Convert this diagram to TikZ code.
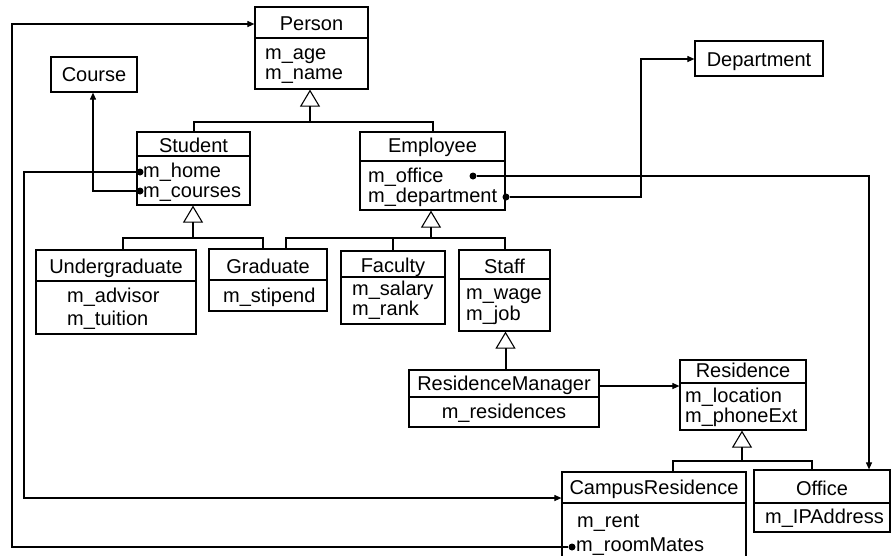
\documentclass[tikz,border=0pt]{standalone}
\usepackage{fontspec}
\setmainfont{Liberation Sans}
\usetikzlibrary{arrows.meta}

\tikzset{
  cls/.style={draw, line width=1.2pt, inner sep=0pt, fill=white},
  divline/.style={line width=1.8pt},
  title/.style={anchor=base, inner sep=0pt, font=\fontsize{20}{20}\selectfont},
  attr/.style={anchor=base west, inner sep=0pt, font=\fontsize{20}{20}\selectfont},
  attrc/.style={anchor=base, inner sep=0pt, font=\fontsize{20}{20}\selectfont},
  inh/.style={line width=2pt},
  inhtip/.style={line width=2pt, -{Triangle[open, length=17pt, width=20pt, line width=1.1pt]}},
  assoc/.style={line width=1.1pt, -{Triangle[length=7pt, width=6pt]}},
  dot/.style={circle, fill=black, inner sep=0pt, minimum size=7pt}
}

\begin{document}
\begin{tikzpicture}[x=1pt, y=-1pt]
\useasboundingbox (0,0) rectangle (892,555);
\clip (0,0) rectangle (892,555);
\fill[white] (0,0) rectangle (892,555);

% ---------- class boxes ----------
\node[cls, minimum width=113pt, minimum height=82pt]  (person)     at (311.5,48)  {};
\node[cls, minimum width=86pt,  minimum height=35pt]  (course)     at (94,74.5)   {};
\node[cls, minimum width=113pt, minimum height=73pt]  (student)    at (193.5,168.5) {};
\node[cls, minimum width=145pt, minimum height=78pt]  (employee)   at (432.5,171) {};
\node[cls, minimum width=128pt, minimum height=35pt]  (department) at (759,58.5)  {};
\node[cls, minimum width=160pt, minimum height=84pt]  (undergrad)  at (116,292)   {};
\node[cls, minimum width=118pt, minimum height=62pt]  (graduate)   at (268,280)   {};
\node[cls, minimum width=104pt, minimum height=73pt]  (faculty)    at (393,287.5) {};
\node[cls, minimum width=91pt,  minimum height=81pt]  (staff)      at (504.5,290.5) {};
\node[cls, minimum width=190pt, minimum height=57pt]  (resmgr)     at (504,398.5) {};
\node[cls, minimum width=126pt, minimum height=70pt]  (residence)  at (743,395)   {};
\node[cls, minimum width=184pt, minimum height=103pt] (campus)     at (654,523.5) {};
\node[cls, minimum width=136pt, minimum height=62pt]  (office)     at (822,501)   {};

% ---------- compartment dividers ----------
\draw[divline] (person.west |- 0,38)    -- (person.east |- 0,38);
\draw[divline] (student.west |- 0,156)  -- (student.east |- 0,156);
\draw[divline] (employee.west |- 0,161) -- (employee.east |- 0,161);
\draw[divline] (undergrad.west |- 0,281) -- (undergrad.east |- 0,281);
\draw[divline] (graduate.west |- 0,280) -- (graduate.east |- 0,280);
\draw[divline] (faculty.west |- 0,277)  -- (faculty.east |- 0,277);
\draw[divline] (staff.west |- 0,279)    -- (staff.east |- 0,279);
\draw[divline] (resmgr.west |- 0,397)   -- (resmgr.east |- 0,397);
\draw[divline] (residence.west |- 0,383) -- (residence.east |- 0,383);
\draw[divline] (campus.west |- 0,503)   -- (campus.east |- 0,503);
\draw[divline] (office.west |- 0,503)   -- (office.east |- 0,503);

% ---------- texts ----------
\node[title] (tPerson) at (311.5,30) {Person};
\node[attr]  (aAge)    at (265,59)   {m\_age};
\node[attr]  (aName)   at (265,79)   {m\_name};

\node[title] (tCourse) at (94,81) {Course};

\node[title] (tStudent) at (193.5,152) {Student};
\node[attr]  (aHome)    at (143,177)   {m\_home};
\node[attr]  (aCourses) at (143,197)   {m\_courses};

\node[title] (tEmployee) at (432.5,152) {Employee};
\node[attr]  (aOffice)   at (368,182)   {m\_office};
\node[attr]  (aDept)     at (368,202)   {m\_department};

\node[title] (tDepartment) at (759,66) {Department};

\node[title] (tUndergrad) at (116,273) {Undergraduate};
\node[attr]  (aAdvisor)   at (67,302)  {m\_advisor};
\node[attr]  (aTuition)   at (67,325)  {m\_tuition};

\node[title] (tGraduate) at (268,273) {Graduate};
\node[attr]  (aStipend)  at (223,302) {m\_stipend};

\node[title] (tFaculty) at (393,272) {Faculty};
\node[attr]  (aSalary)  at (352,295) {m\_salary};
\node[attr]  (aRank)    at (352,315) {m\_rank};

\node[title] (tStaff) at (504.5,273) {Staff};
\node[attr]  (aWage)  at (466,299)   {m\_wage};
\node[attr]  (aJob)   at (466,320)   {m\_job};

\node[title] (tResMgr)     at (504,390) {ResidenceManager};
\node[attrc] (aResidences) at (504,418) {m\_residences};

\node[title] (tResidence) at (743,377) {Residence};
\node[attr]  (aLocation)  at (685,402) {m\_location};
\node[attr]  (aPhoneExt)  at (685,422) {m\_phoneExt};

\node[title] (tOffice)    at (822,495) {Office};
\node[attr]  (aIPAddress) at (765,523) {m\_IPAddress};

\node[title] (tCampus)    at (654,494) {CampusResidence};
\node[attr]  (aRent)      at (577,527) {m\_rent};
\node[attr]  (aRoomMates) at (576,551) {m\_roomMates};

% ---------- generalisation ----------
\coordinate (jPerson) at (310,122);
\draw[inh] (student.north) |- (jPerson) -| (employee.north);
\draw[inhtip] (jPerson) -- (jPerson |- person.south);

\coordinate (jStudent) at (193,238);
\draw[inh] ([xshift=7pt]undergrad.north) |- (jStudent) -| ([xshift=-5pt]graduate.north);
\draw[inhtip] (jStudent) -- (jStudent |- student.south);

\coordinate (jEmployee) at (431,238);
\draw[inh] ([xshift=18pt]graduate.north) |- (jEmployee) -| (staff.north);
\draw[inh] (jEmployee -| faculty.north) -- (faculty.north);
\draw[inhtip] (jEmployee) -- (jEmployee |- employee.south);

\coordinate (jStaff) at (505.5,370);
\draw[inhtip] (jStaff) -- (jStaff |- staff.south);

\coordinate (jResidence) at (742,461);
\draw[inh] ([xshift=19pt]campus.north) |- (jResidence) -| ([xshift=-10pt]office.north);
\draw[inhtip] (jResidence) -- (jResidence |- residence.south);

% ---------- associations ----------
\node[dot] (dRoomMates) at (572,547) {};
\coordinate (bRoomA) at (12,547);
\coordinate (bRoomB) at (12,24);
\draw[assoc] (dRoomMates) -- (bRoomA) -- (bRoomB) -- (bRoomB -| person.west);

\node[dot] (dHome) at (140,172) {};
\coordinate (bHomeA) at (24,172);
\coordinate (bHomeB) at (24,498);
\draw[assoc] (dHome) -- (bHomeA) -- (bHomeB) -- (bHomeB -| campus.west);

\node[dot] (dCourses) at (140,191) {};
\coordinate (bCourses) at (93,191);
\draw[assoc] (dCourses) -- (bCourses) -- (bCourses |- course.south);

\node[dot] (dDept) at (506,197) {};
\coordinate (bDeptA) at (641,197);
\coordinate (bDeptB) at (641,59);
\draw[assoc] (dDept) -- (bDeptA) -- (bDeptB) -- (bDeptB -| department.west);

\node[dot] (dOffice) at (473,176) {};
\coordinate (bOffice) at (869,176);
\draw[assoc] (dOffice) -- (bOffice) -- (bOffice |- office.north);

\coordinate (rmOut) at (599,386);
\draw[assoc] (rmOut) -- (rmOut -| residence.west);
\end{tikzpicture}
\end{document}
